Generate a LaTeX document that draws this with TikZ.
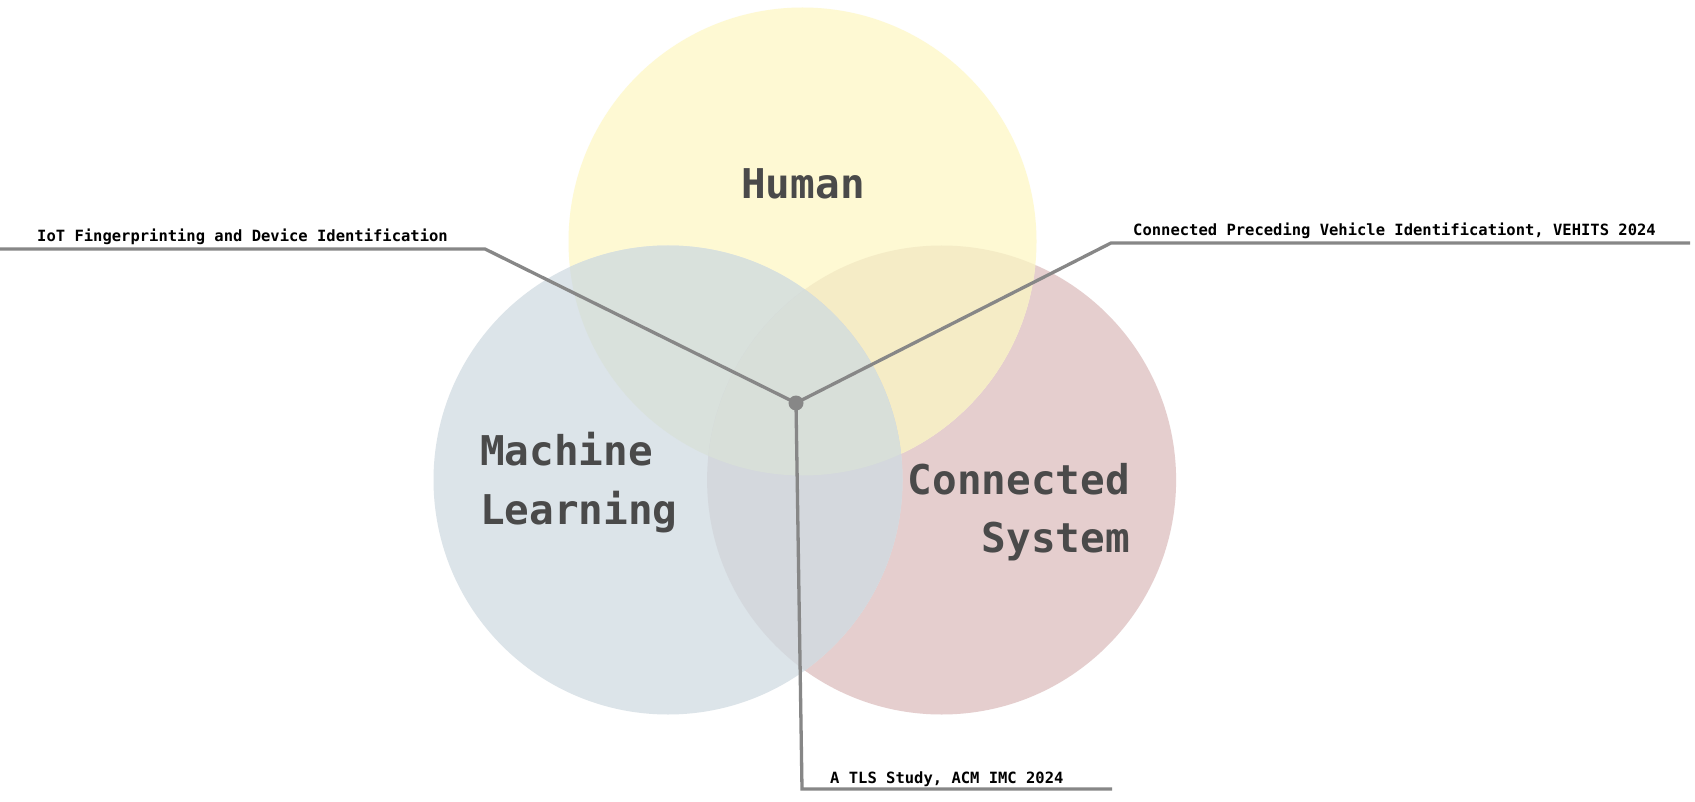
\documentclass[tikz,border=0pt]{standalone}
\usepackage{fontspec}
\setmonofont{DejaVu Sans Mono}
\definecolor{cy}{HTML}{FEF9D3}
\definecolor{cb}{HTML}{DCE4E9}
\definecolor{cr}{HTML}{E5CECE}
\definecolor{cyb}{HTML}{D9E1DC}
\definecolor{cyr}{HTML}{F5ECC6}
\definecolor{cbr}{HTML}{D4D8DD}
\definecolor{cybr}{HTML}{D8DFD9}
\definecolor{conncol}{HTML}{878787}
\definecolor{labcol}{HTML}{4A4A4A}
\begin{document}
\begin{tikzpicture}[x=1pt,y=-1pt,
  biglabel/.style={inner sep=0pt,text=labcol,font=\ttfamily\bfseries\fontsize{41}{49}\selectfont},
  smalllabel/.style={inner sep=0pt,text=black,font=\ttfamily\bfseries\fontsize{15.5}{18}\selectfont,anchor=base west},
  connline/.style={draw=conncol,line width=3.3pt,line join=miter},
  hubdot/.style={circle,fill=conncol,inner sep=0pt,minimum size=15pt}]
\useasboundingbox (0,0) rectangle (1695,802);
\fill[white] (0,0) rectangle (1695,802);
% circle centres
\coordinate (Y) at (802.5,241.5);
\coordinate (B) at (668,480);
\coordinate (R) at (941.6,480);
% base circles
\fill[cr] (R) circle (234.5pt);
\fill[cy] (Y) circle (234pt);
\fill[cb] (B) circle (234.5pt);
% overlaps
\begin{scope}\clip (Y) circle (234pt); \fill[cyr] (R) circle (234.5pt);\end{scope}
\begin{scope}\clip (Y) circle (234pt); \fill[cyb] (B) circle (234.5pt);\end{scope}
\begin{scope}\clip (B) circle (234.5pt); \fill[cbr] (R) circle (234.5pt);\end{scope}
\begin{scope}\clip (Y) circle (234pt); \clip (B) circle (234.5pt); \fill[cybr] (R) circle (234.5pt);\end{scope}
% big labels
\node[biglabel,anchor=base] (human) at (803,199) {Human};
\node[biglabel,anchor=base west] (ml1) at (480,465) {Machine};
\node[biglabel,anchor=base west] (ml2) at (480,524) {Learning};
\node[biglabel,anchor=base east] (cs1) at (1130,494) {Connected};
\node[biglabel,anchor=base east] (cs2) at (1130,552) {System};
% connector geometry
\coordinate (lend) at (0,249);
\coordinate (lbend) at (485,249);
\coordinate (rbend) at (1111,243);
\coordinate (rend) at (1690,243);
\coordinate (bbend) at (802,789);
\coordinate (bend) at (1112,789);
\node[hubdot] (hub) at (796,403) {};
\draw[connline] (lend) -- (lbend) -- (hub.center);
\draw[connline] (hub.center) -- (rbend) -- (rend);
\draw[connline] (hub.center) -- (bbend) -- (bend);
% small labels
\node[smalllabel] (iot) at (37,242) {IoT Fingerprinting and Device Identification};
\node[smalllabel] (cpv) at (1133,236) {Connected Preceding Vehicle Identificationt, VEHITS 2024};
\node[smalllabel] (tls) at (830,783) {A TLS Study, ACM IMC 2024};
\end{tikzpicture}
\end{document}
